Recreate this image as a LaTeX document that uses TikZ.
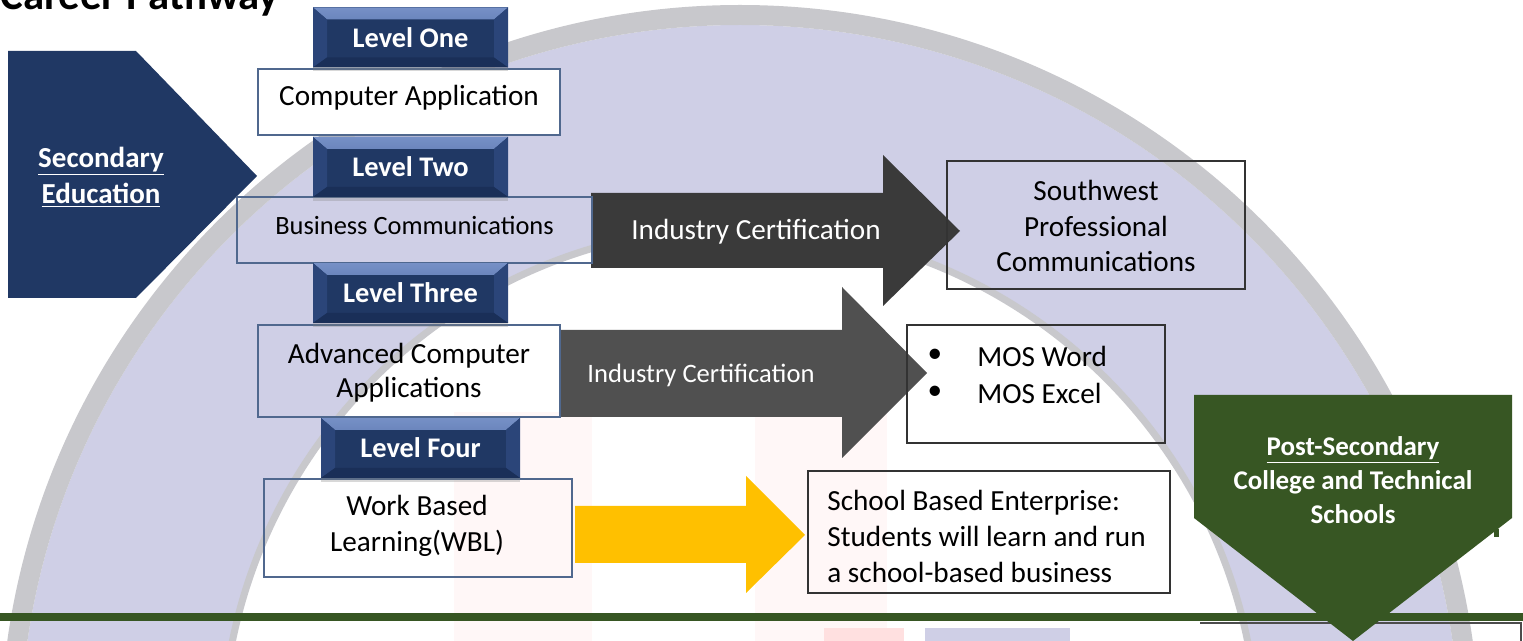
\documentclass[tikz,border=0pt]{standalone}
\usepackage{fontspec}
\setmainfont{Carlito}
\usetikzlibrary{shadows}
\definecolor{navy}{HTML}{203864}
\definecolor{bevtop}{HTML}{7690C6}
\definecolor{bevtopb}{HTML}{3F5D98}
\definecolor{bevside}{HTML}{2B4579}
\definecolor{bevbot}{HTML}{1A2F58}
\definecolor{lav}{HTML}{CFCFE6}
\definecolor{ringgrey}{HTML}{C8C8CC}
\definecolor{darkA}{HTML}{3A3A3A}
\definecolor{darkB}{HTML}{505050}
\definecolor{gold}{HTML}{FFC000}
\definecolor{forest}{HTML}{375623}
\definecolor{boxline}{HTML}{50688E}
\definecolor{pinkbg}{HTML}{FFF7F7}
\tikzset{
  levelbox/.style={fill=navy, text=white, font=\bfseries\fontsize{14.2}{17}\selectfont,
    minimum width=97.5pt, minimum height=30pt, inner sep=0pt,
    drop shadow={opacity=0.3, shadow xshift=0pt, shadow yshift=-2pt},
    path picture={
      \fill[top color=bevtop, bottom color=bevtopb]
        (path picture bounding box.north west) -- (path picture bounding box.north east)
        -- ([xshift=-7pt,yshift=-6pt]path picture bounding box.north east)
        -- ([xshift=7pt,yshift=-6pt]path picture bounding box.north west) -- cycle;
      \fill[bevside]
        (path picture bounding box.north west) -- ([xshift=7pt,yshift=-6pt]path picture bounding box.north west)
        -- ([xshift=7pt,yshift=5pt]path picture bounding box.south west) -- (path picture bounding box.south west) -- cycle;
      \fill[bevside]
        (path picture bounding box.north east) -- ([xshift=-7pt,yshift=-6pt]path picture bounding box.north east)
        -- ([xshift=-7pt,yshift=5pt]path picture bounding box.south east) -- (path picture bounding box.south east) -- cycle;
      \fill[bevbot]
        (path picture bounding box.south west) -- ([xshift=7pt,yshift=5pt]path picture bounding box.south west)
        -- ([xshift=-7pt,yshift=5pt]path picture bounding box.south east) -- (path picture bounding box.south east) -- cycle;
    }},
  cbox/.style={draw=boxline, line width=0.75pt, inner sep=0pt},
  rbox/.style={draw=black!80, line width=0.75pt, inner sep=0pt},
  txt/.style={inner sep=0pt, align=center, font=\fontsize{14.6}{17.8}\selectfont},
  wtxt/.style={inner sep=0pt, align=center, text=white, font=\bfseries\fontsize{14.2}{18}\selectfont}
}
\begin{document}
\begin{tikzpicture}[x=0.5pt,y=-0.5pt]
\useasboundingbox (0,0) rectangle (1523,641);
\clip (0,0) rectangle (1523,641);
\fill[white] (0,0) rectangle (1523,641);
% watermark background
\fill[lav, even odd rule] (740,745) circle[radius=720] (740,745) circle[radius=518];
\draw[ringgrey, line width=10pt] (740,745) circle[radius=730];
\draw[ringgrey, line width=3.5pt] (740,745) circle[radius=518];
\fill[pinkbg] (454,412) rectangle (592,641);
\fill[pinkbg] (755,412) rectangle (887,641);
\fill[red!12] (824,628) rectangle (904,641);
\fill[lav] (925,628) rectangle (1070,641);
% title
\node[anchor=base west, inner sep=0pt, font=\bfseries\fontsize{21.4}{24}\selectfont] (title) at (0,10) {Career Pathway};
% secondary education
\fill[navy] (8,51) -- (136,51) -- (257,176) -- (136,298) -- (8,298) -- cycle;
\node[wtxt, font=\bfseries\fontsize{14.5}{18}\selectfont] (sec) at (101,177) {\underline{Secondary}\\\underline{Education}};
% block arrows
\fill[darkA] (591,193) -- (883,193) -- (883,155) -- (960,231) -- (883,306) -- (883,268) -- (591,268) -- cycle;
\fill[darkB] (560,330) -- (842,330) -- (842,287) -- (927,373) -- (842,458) -- (842,417) -- (560,417) -- cycle;
\fill[gold] (575,506) -- (746,506) -- (746,476) -- (805,535) -- (746,593) -- (746,563) -- (575,563) -- cycle;
\node[txt, text=white] (cert1) at (756,232) {Industry Certification};
\node[txt, text=white, font=\fontsize{13.3}{16}\selectfont] (cert2) at (701,375) {Industry Certification};
% course boxes
\node[cbox, fill=white, minimum width=151pt, minimum height=33pt] (b1) at (409,102) {};
\node[txt] (t1) at (409,98) {Computer Application};
\node[cbox, minimum width=177.5pt, minimum height=33pt] (b2) at (414.5,230) {};
\node[txt, font=\fontsize{13.2}{16}\selectfont] (t2) at (414.5,225) {Business Communications};
\node[cbox, minimum width=151pt, minimum height=46pt] (b3) at (409,371) {};
\node[txt, font=\fontsize{14.6}{17}\selectfont] (t3) at (409,373) {Advanced Computer\\Applications};
\node[cbox, minimum width=154pt, minimum height=49pt] (b4) at (418,528) {};
\node[txt, font=\fontsize{14.6}{18}\selectfont] (t4) at (417,526) {Work Based\\Learning(WBL)};
% level boxes
\node[levelbox] (l1) at (410.5,37.5) {Level One};
\node[levelbox] (l2) at (410.5,167) {Level Two};
\node[levelbox] (l3) at (410.5,293) {Level Three};
\node[levelbox, minimum width=99.5pt] (l4) at (420.5,448) {Level Four};
% outcome boxes
\node[rbox, minimum width=149pt, minimum height=64pt] (sw) at (1096,225) {};
\node[txt] (swt) at (1096,226) {Southwest\\Professional\\Communications};
\node[rbox, minimum width=129pt, minimum height=59pt] (mos) at (1036,384) {};
\node[txt] (bu1) at (935,356) {•};
\node[txt] (bu2) at (935,393) {•};
\node[txt, anchor=west] (mw) at (977,356) {MOS Word};
\node[txt, anchor=west] (me) at (977,393) {MOS Excel};
\node[rbox, minimum width=181pt, minimum height=61pt] (sbe) at (989,532) {};
\node[txt, align=left, anchor=west, font=\fontsize{14.6}{18}\selectfont] (sbet) at (827,536) {School Based Enterprise:\\Students will learn and run\\a school-based business};
% bottom bar and post-secondary
\fill[forest] (0,613) rectangle (1523,621);
\draw[black!70, line width=0.6pt] (1200,623) -- (1521,623) -- (1521,641);
\fill[forest] (1194,395) -- (1512,395) -- (1512,518) -- (1353,641) -- (1194,518) -- cycle;
\fill[forest] (1494,529) rectangle (1499,537);
\node[wtxt, font=\bfseries\fontsize{13.5}{17}\selectfont] (ps) at (1353,480) {\underline{Post-Secondary}\\College and Technical\\Schools};
\end{tikzpicture}
\end{document}
